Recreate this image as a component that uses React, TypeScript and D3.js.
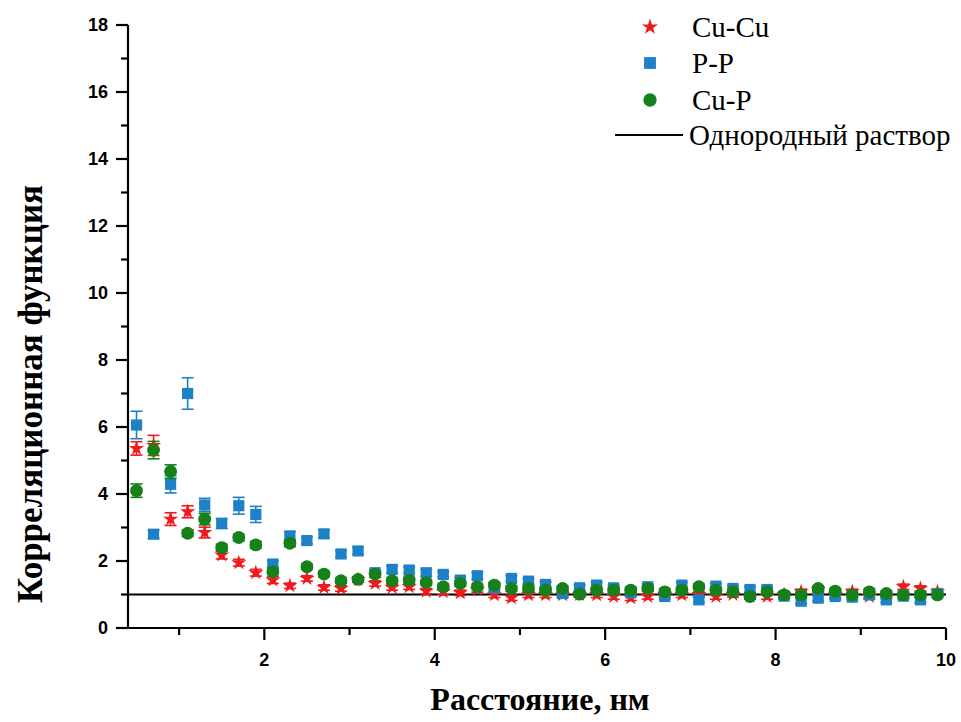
import * as d3 from 'd3';

// Pair correlation function vs distance — three scatter series with error bars
// plus a flat reference line for the homogeneous solution.

const DIST = [0.5, 0.7, 0.9, 1.1, 1.3, 1.5, 1.7, 1.9, 2.1, 2.3, 2.5, 2.7, 2.9, 3.1, 3.3, 3.5, 3.7, 3.9,
  4.1, 4.3, 4.5, 4.7, 4.9, 5.1, 5.3, 5.5, 5.7, 5.9, 6.1, 6.3, 6.5, 6.7, 6.9, 7.1, 7.3, 7.5, 7.7, 7.9,
  8.1, 8.3, 8.5, 8.7, 8.9, 9.1, 9.3, 9.5, 9.7, 9.9];

const CU_CU = [5.36, 5.45, 3.25, 3.47, 2.85, 2.18, 1.95, 1.65, 1.43, 1.26, 1.48, 1.21, 1.18, 1.45, 1.33, 1.21, 1.23, 1.10,
  1.08, 1.05, 1.15, 0.99, 0.90, 0.99, 0.99, 0.99, 1.00, 0.99, 0.94, 0.90, 0.94, 1.00, 0.99, 1.00, 0.94, 1.00, 0.95, 0.94,
  1.00, 1.08, 1.15, 0.99, 1.08, 0.94, 0.95, 1.23, 1.18, 1.08];
const CU_CU_ERR = [0.2, 0.3, 0.19, 0.18, 0.16, 0.12, 0.1, 0.1, 0.1, 0.08, 0.08, 0.08, 0.08, 0.08, 0.08, 0.08, 0.08, 0.08,
  0.08, 0.08, 0.08, 0.08, 0.08, 0.08, 0.08, 0.08, 0.08, 0.08, 0.08, 0.08, 0.08, 0.08, 0.08, 0.08, 0.08, 0.08, 0.08, 0.08,
  0.08, 0.08, 0.08, 0.08, 0.08, 0.08, 0.08, 0.08, 0.08, 0.08];

const P_P = [6.06, 2.80, 4.29, 7.00, 3.67, 3.12, 3.65, 3.39, 1.91, 2.75, 2.61, 2.81, 2.21, 2.30, 1.65, 1.75, 1.73, 1.65,
  1.60, 1.43, 1.56, 1.20, 1.48, 1.40, 1.30, 1.03, 1.20, 1.28, 1.20, 1.05, 1.23, 0.94, 1.28, 0.84, 1.25, 1.18, 1.15, 1.15,
  0.95, 0.80, 0.89, 0.94, 0.92, 0.99, 0.84, 0.95, 0.84, 1.03];
const P_P_ERR = [0.41, 0.12, 0.26, 0.47, 0.2, 0.15, 0.25, 0.24, 0.1, 0.12, 0.1, 0.12, 0.1, 0.1, 0.08, 0.1, 0.1, 0.1,
  0.08, 0.08, 0.1, 0.08, 0.08, 0.08, 0.08, 0.08, 0.08, 0.08, 0.08, 0.08, 0.08, 0.08, 0.08, 0.08, 0.08, 0.08, 0.08, 0.08,
  0.08, 0.08, 0.08, 0.08, 0.08, 0.08, 0.08, 0.08, 0.08, 0.08];

const CU_P = [4.10, 5.31, 4.67, 2.83, 3.25, 2.40, 2.70, 2.48, 1.68, 2.53, 1.83, 1.61, 1.41, 1.45, 1.61, 1.41, 1.43, 1.36,
  1.23, 1.33, 1.23, 1.28, 1.18, 1.18, 1.13, 1.18, 1.01, 1.13, 1.13, 1.13, 1.18, 1.08, 1.13, 1.23, 1.13, 1.08, 0.94, 1.08,
  0.99, 0.99, 1.18, 1.10, 0.99, 1.08, 1.03, 0.99, 0.99, 0.99];
const CU_P_ERR = [0.2, 0.26, 0.2, 0.1, 0.17, 0.1, 0.1, 0.1, 0.08, 0.1, 0.08, 0.08, 0.08, 0.08, 0.08, 0.08, 0.08, 0.08,
  0.08, 0.08, 0.08, 0.08, 0.08, 0.08, 0.08, 0.08, 0.08, 0.08, 0.08, 0.08, 0.08, 0.08, 0.08, 0.08, 0.08, 0.08, 0.08, 0.08,
  0.08, 0.08, 0.08, 0.08, 0.08, 0.08, 0.08, 0.08, 0.08, 0.08];

const SERIES_NAMES = ['Cu-Cu', 'P-P', 'Cu-P'];
const REFERENCE_NAME = 'Однородный раствор';
const REFERENCE_LEVEL = 1;
const X_TICKS = [2, 4, 6, 8, 10];
const X_MINOR = [1, 3, 5, 7, 9];
const Y_TICKS = [0, 2, 4, 6, 8, 10, 12, 14, 16, 18];
const Y_MINOR = [1, 3, 5, 7, 9, 11, 13, 15, 17];

const RED = '#F01A1E';
const BLUE = '#1E80C6';
const GREEN = '#16801A';
const AXIS_FONT = 'Arial, "Liberation Sans", sans-serif';
const SERIF = '"Liberation Serif", "Times New Roman", serif';

const LEFT = 128, RIGHT = 946, TOP = 25, BOTTOM = 628;

export default function App() {
  const x = d3.scaleLinear().domain([0.4, 10]).range([LEFT, RIGHT]);
  const y = d3.scaleLinear().domain([0, 18]).range([BOTTOM, TOP]);

  const star = d3.symbol().type(d3.symbolStar).size(72)() as string;
  const square = d3.symbol().type(d3.symbolSquare).size(125)() as string;
  const circle = d3.symbol().type(d3.symbolCircle).size(130)() as string;
  const starLeg = d3.symbol().type(d3.symbolStar).size(80)() as string;
  const squareLeg = d3.symbol().type(d3.symbolSquare).size(140)() as string;
  const circleLeg = d3.symbol().type(d3.symbolCircle).size(140)() as string;

  const series = [
    { vals: CU_CU, err: CU_CU_ERR, color: RED, sym: star },
    { vals: P_P, err: P_P_ERR, color: BLUE, sym: square },
    { vals: CU_P, err: CU_P_ERR, color: GREEN, sym: circle },
  ];
  const legendSyms = [starLeg, squareLeg, circleLeg];
  const legendRows = [27, 63, 100];

  return (
    <svg width={961} height={722} style={{ position: 'absolute', left: 0, top: 0, background: '#fff' }}>
      {/* reference line */}
      <line x1={x(0.4)} x2={x(10)} y1={y(REFERENCE_LEVEL)} y2={y(REFERENCE_LEVEL)} stroke="#000" strokeWidth={2.2} />

      {series.map((s, si) => (
        <g key={si}>
          {s.vals.map((v, i) => {
            const cx = x(DIST[i]);
            const y0 = y(v - s.err[i]);
            const y1 = y(v + s.err[i]);
            return (
              <g key={i} stroke={s.color} strokeWidth={1.6}>
                <line x1={cx} x2={cx} y1={y0} y2={y1} />
                <line x1={cx - 6} x2={cx + 6} y1={y0} y2={y0} />
                <line x1={cx - 6} x2={cx + 6} y1={y1} y2={y1} />
              </g>
            );
          })}
          {s.vals.map((v, i) => (
            <path key={'m' + i} d={s.sym} transform={`translate(${x(DIST[i])},${y(v)})`} fill={s.color} />
          ))}
        </g>
      ))}

      {/* axes */}
      <g stroke="#000" strokeWidth={2.2}>
        <line x1={LEFT} x2={LEFT} y1={TOP} y2={BOTTOM + 1} />
        <line x1={LEFT - 1} x2={RIGHT} y1={BOTTOM} y2={BOTTOM} />
        {Y_TICKS.map((t) => <line key={'yt' + t} x1={LEFT - 12} x2={LEFT} y1={y(t)} y2={y(t)} />)}
        {Y_MINOR.map((t) => <line key={'ym' + t} x1={LEFT - 7} x2={LEFT} y1={y(t)} y2={y(t)} />)}
        {X_TICKS.map((t) => <line key={'xt' + t} x1={x(t)} x2={x(t)} y1={BOTTOM} y2={BOTTOM + 12} />)}
        {X_MINOR.map((t) => <line key={'xm' + t} x1={x(t)} x2={x(t)} y1={BOTTOM} y2={BOTTOM + 7} />)}
      </g>
      <g fontFamily={AXIS_FONT} fontWeight="bold" fontSize={18} fill="#000">
        {Y_TICKS.map((t) => (
          <text key={'yl' + t} x={LEFT - 20} y={y(t)} dy="0.36em" textAnchor="end">{t}</text>
        ))}
        {X_TICKS.map((t) => (
          <text key={'xl' + t} x={x(t)} y={BOTTOM + 38} textAnchor="middle">{t}</text>
        ))}
      </g>

      <text x={540} y={710} textAnchor="middle" fontFamily={SERIF} fontWeight="bold" fontSize={32}>
        Расстояние, нм
      </text>
      <text transform="translate(42,394) rotate(-90)" textAnchor="middle" fontFamily={SERIF} fontWeight="bold" fontSize={35}>
        Корреляционная функция
      </text>

      {/* legend */}
      <g fontFamily={SERIF} fontSize={29} fill="#000">
        {SERIES_NAMES.map((name, i) => (
          <g key={name} transform={`translate(0,${legendRows[i]})`}>
            <path d={legendSyms[i]} transform="translate(650,0)" fill={series[i].color} />
            <text x={692} y={10}>{name}</text>
          </g>
        ))}
        <line x1={615} x2={683} y1={135} y2={135} stroke="#000" strokeWidth={2.2} />
        <text x={689} y={145}>{REFERENCE_NAME}</text>
      </g>
    </svg>
  );
}
